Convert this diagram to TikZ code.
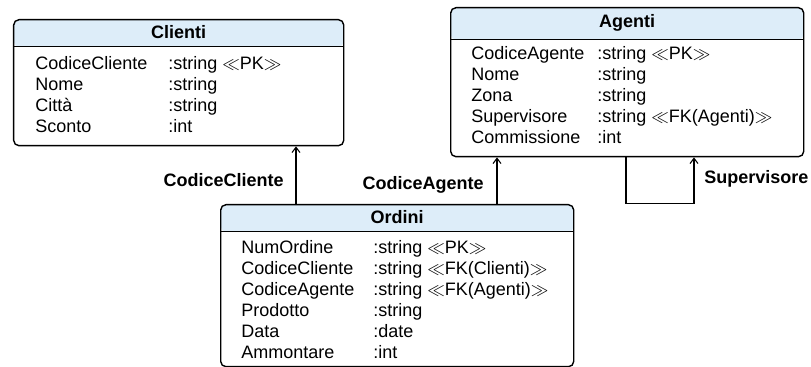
\documentclass[tikz,border=0pt]{standalone}
\usepackage{fontspec}
\setmainfont{Liberation Sans}
\usetikzlibrary{arrows.meta}
\definecolor{testa}{RGB}{221,237,249}

\begin{document}
\begin{tikzpicture}[font=\fontsize{10.24}{11.9}\selectfont,
  tabella/.style={draw, line width=0.8pt, rounded corners=3pt, fill=white, anchor=north west,
    path picture={
      \fill[testa] (path picture bounding box.north west) rectangle ([yshift=-#1]path picture bounding box.north east);
      \draw[line width=0.8pt] ([yshift=-#1]path picture bounding box.north west) -- ([yshift=-#1]path picture bounding box.north east);
    }},
  titolo/.style={font=\fontsize{10.24}{11.9}\selectfont\bfseries},
  campi/.style={inner sep=0pt, anchor=base west},
  etichetta/.style={inner sep=0pt, font=\fontsize{10.24}{11.9}\selectfont\bfseries},
  freccia/.style={-{Straight Barb[length=3pt,width=4.5pt]}, line width=0.6pt}]
\useasboundingbox (0,0) rectangle (16.22,-7.34);

  % tabella Clienti
  \node[tabella=0.54cm, minimum width=6.6cm, minimum height=2.52cm] (clienti) at (0.26,-0.38) {};
  \node[titolo] (clientiTit) at ([yshift=-0.27cm]clienti.north) {Clienti};
  \node[campi] (clientiCampi) at (0.70,-1.40) {%
    \begin{tabular}[t]{@{}p{2.66cm}@{}l@{}}
      CodiceCliente & :string $\ll$PK$\gg$ \\
      Nome & :string \\
      Città & :string \\
      Sconto & :int
    \end{tabular}};

  % tabella Agenti
  \node[tabella=0.64cm, minimum width=7.06cm, minimum height=2.98cm] (agenti) at (9.00,-0.14) {};
  \node[titolo] (agentiTit) at ([yshift=-0.32cm]agenti.north) {Agenti};
  \node[campi] (agentiCampi) at (9.42,-1.19) {%
    \begin{tabular}[t]{@{}p{2.52cm}@{}l@{}}
      CodiceAgente & :string $\ll$PK$\gg$ \\
      Nome & :string \\
      Zona & :string \\
      Supervisore & :string $\ll$FK(Agenti)$\gg$ \\
      Commissione & :int
    \end{tabular}};

  % tabella Ordini
  \node[tabella=0.54cm, minimum width=7.06cm, minimum height=3.24cm] (ordini) at (4.40,-4.08) {};
  \node[titolo] (ordiniTit) at ([yshift=-0.27cm]ordini.north) {Ordini};
  \node[campi] (ordiniCampi) at (4.82,-5.08) {%
    \begin{tabular}[t]{@{}p{2.64cm}@{}l@{}}
      NumOrdine & :string $\ll$PK$\gg$ \\
      CodiceCliente & :string $\ll$FK(Clienti)$\gg$ \\
      CodiceAgente & :string $\ll$FK(Agenti)$\gg$ \\
      Prodotto & :string \\
      Data & :date \\
      Ammontare & :int
    \end{tabular}};

  % chiavi esterne
  \coordinate (fkCliente) at (5.92,0);
  \coordinate (fkAgente) at (9.94,0);
  \coordinate (anelloA) at (12.52,0);
  \coordinate (anelloB) at (13.88,0);
  \draw[freccia] (ordini.north -| fkCliente) -- (clienti.south -| fkCliente);
  \draw[freccia] (ordini.north -| fkAgente) -- (agenti.south -| fkAgente);
  \draw[freccia] (agenti.south -| anelloA) -- ++(0,-0.92) -| (agenti.south -| anelloB);

  \node[etichetta, anchor=east] (labCliente) at (5.68,-3.60) {CodiceCliente};
  \node[etichetta, anchor=east] (labAgente) at (9.68,-3.70) {CodiceAgente};
  \node[etichetta, anchor=west] (labSuper) at (14.08,-3.58) {Supervisore};

\end{tikzpicture}
\end{document}
